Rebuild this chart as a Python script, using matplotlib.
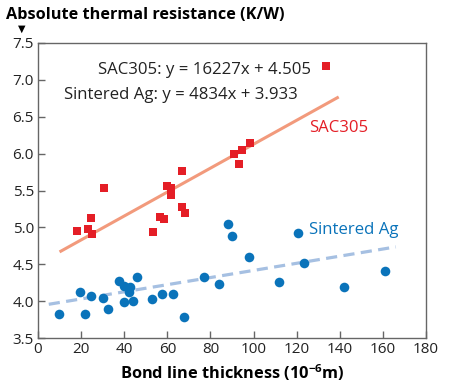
import numpy as np
import matplotlib.pyplot as plt

plt.rcParams['font.family'] = ['Open Sans', 'DejaVu Sans']
plt.rcParams['mathtext.fontset'] = 'custom'
plt.rcParams['mathtext.rm'] = 'Open Sans'
plt.rcParams['mathtext.bf'] = 'Open Sans:bold'

# SAC305 measurements (thickness in um, resistance in K/W)
sac_x = [17.9, 23.3, 24.6, 25.0, 30.6, 53.5, 56.6, 58.6, 60.0, 61.8, 61.5,
         66.6, 66.9, 68.2, 90.8, 94.8, 93.4, 98.5, 133.6]
sac_y = [4.95, 4.98, 5.13, 4.91, 5.53, 4.94, 5.14, 5.12, 5.56, 5.53, 5.44,
         5.76, 5.28, 5.20, 6.00, 6.05, 5.86, 6.14, 7.19]

# Sintered Ag measurements
ag_x = [9.9, 19.6, 21.6, 24.7, 30.3, 32.6, 37.4, 40.0, 39.7, 42.7, 42.2,
        43.9, 46.1, 53.0, 57.5, 62.5, 67.6, 76.8, 83.8, 88.3, 89.8, 97.9,
        111.9, 120.7, 123.2, 141.8, 160.8]
ag_y = [3.83, 4.13, 3.83, 4.07, 4.04, 3.89, 4.27, 4.20, 3.99, 4.19, 4.12,
        4.00, 4.33, 4.03, 4.10, 4.09, 3.79, 4.33, 4.23, 5.04, 4.88, 4.60,
        4.26, 4.92, 4.52, 4.19, 4.41]

# linear fits (slope per metre, intercept)
sac_fit = (16227, 4.505)
ag_fit = (4834, 3.933)
sac_range = (10, 139.5)
ag_range = (5, 166)

x_ticks = np.arange(0, 181, 20)
y_ticks = np.arange(3.5, 7.51, 0.5)


def main():
    fig = plt.figure(figsize=(4.5, 3.87), dpi=100)
    ax = fig.add_axes([0.0844, 0.1266, 0.8623, 0.7623])

    xs = np.array(sac_range)
    ax.plot(xs, sac_fit[0] * xs * 1e-6 + sac_fit[1], color='#f29a7c', lw=2.2,
            solid_capstyle='butt', zorder=2)
    xa = np.array(ag_range)
    ax.plot(xa, ag_fit[0] * xa * 1e-6 + ag_fit[1], color='#a6c0e2', lw=2.3,
            ls=(0, (3.5, 2)), zorder=2)

    ax.scatter(sac_x, sac_y, marker='s', s=40, color='#e41e26', lw=0, zorder=3)
    ax.scatter(ag_x, ag_y, marker='o', s=48, color='#0a73ba', lw=0, zorder=3)

    ax.text(27.8, 7.13, 'SAC305: y = 16227x + 4.505', fontsize=12.1,
            ha='left', va='center', color='#222222')
    ax.text(12.0, 6.79, 'Sintered Ag: y = 4834x + 3.933', fontsize=12.1,
            ha='left', va='center', color='#222222')
    ax.text(126, 6.35, 'SAC305', fontsize=12.1, color='#e41e26', va='center')
    ax.text(125.5, 4.96, 'Sintered Ag', fontsize=12.1, color='#0a73ba', va='center')

    ax.set_xlim(0, 180)
    ax.set_ylim(3.5, 7.5)
    ax.set_xticks(x_ticks)
    ax.set_yticks(y_ticks)
    ax.set_yticklabels([f'{v:.1f}' for v in y_ticks])
    ax.tick_params(direction='in', length=5, width=1, labelsize=11,
                   colors='#222222', pad=3)
    ax.tick_params(axis='x', color='#666666')
    ax.tick_params(axis='y', color='#666666')
    for sp in ax.spines.values():
        sp.set_color('#666666')
        sp.set_linewidth(1)

    ax.set_xlabel('Bond line thickness (10$^{\\mathbf{-6}}$m)', fontsize=11.8,
                  fontweight='bold', labelpad=4)
    fig.text(0.013, 0.962, 'Absolute thermal resistance (K/W)', fontsize=11.7,
             fontweight='bold', va='center', ha='left')
    fig.text(0.049, 0.925, '\u25bc', fontsize=7, va='center', ha='center',
             family=['DejaVu Sans'])

    fig.savefig('out.png', dpi=100)


if __name__ == "__main__":
    main()
